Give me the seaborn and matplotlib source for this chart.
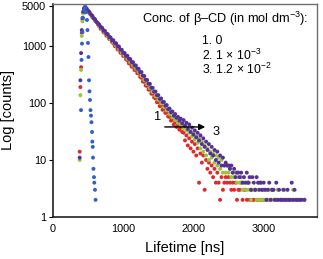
import matplotlib
matplotlib.use("Agg")
import matplotlib.pyplot as plt
import pandas as pd
import seaborn as sns

# TCSPC channels: fine channels on the rising edge, 20 ns channels after the peak
rise_ns = [380, 390, 400, 410, 420, 430, 440, 450]
decay_ns = list(range(460, 3600, 20))

# 1. no beta-CD (red)
red_rise = [14, 190, 425, 1700, 2900, 3900, 4400, 4700]
red_decay = [
    4700, 4330, 4110, 3720, 3540, 3200, 3050, 2750, 2630, 2370,
    2200, 1990, 1930, 1740, 1700, 1520, 1495, 1330, 1310, 1170,
    1110, 995, 975, 870, 858, 762, 752, 668, 660, 585,
    560, 496, 492, 434, 432, 380, 378, 333, 333, 288,
    276, 238, 235, 202, 200, 172, 171, 146, 145, 125,
    120, 103, 103, 88, 90, 76, 79, 67, 68, 58,
    57, 49, 51, 42, 46, 38, 41, 34, 37, 31,
    30, 22, 27, 18, 24, 16, 21, 14, 19, 12,
    16, 4, 13, 9, 12, 3, 10, 7, 9, 6,
    8, 5, 7, 4, 6, 4, 2, 5, 3, 4,
    5, 4, 5, 4, 3, 4, 3, 4, 2, 3,
    3, 4, 2, 3, 3, 2, 4, 2, 3, 2,
    2, 3, 2, 2, 4, 2, 3, 2, 2, 0,
    2, 0, 2, 3, 0, 2, 0, 2, 0, 2,
    0, 2, 0, 0, 2, 0, 0, 0, 2, 0,
    0, 0, 2, 0, 0, 0, 2,
]

# 2. 1e-3 mol dm-3 (green)
green_rise = [10, 137, 380, 1500, 2700, 3700, 4300, 4700]
green_decay = [
    4760, 4480, 4090, 3870, 3510, 3340, 3010, 2880, 2600, 2470,
    2230, 2160, 1950, 1890, 1710, 1660, 1500, 1460, 1310, 1280,
    1150, 1120, 1005, 985, 880, 865, 770, 760, 675, 668,
    592, 585, 518, 515, 452, 452, 398, 397, 348, 345,
    296, 294, 252, 250, 214, 214, 183, 181, 155, 155,
    131, 133, 113, 116, 98, 101, 85, 88, 74, 77,
    64, 67, 56, 59, 50, 54, 45, 48, 41, 43,
    36, 39, 33, 36, 30, 32, 26, 29, 23, 26,
    20, 24, 16, 21, 14, 18, 12, 16, 10, 14,
    11, 13, 9, 12, 8, 11, 7, 10, 6, 8,
    6, 8, 6, 7, 5, 6, 5, 6, 4, 5,
    4, 5, 3, 4, 3, 4, 3, 4, 2, 3,
    3, 3, 2, 3, 2, 4, 2, 3, 2, 3,
    2, 3, 2, 2, 3, 2, 2, 3, 0, 2,
    2, 0, 3, 2, 0, 2, 2, 0, 3, 2,
    0, 2, 0, 2, 0, 0, 2,
]

# 3. 1.2e-2 mol dm-3 (purple)
purple_rise = [11, 250, 750, 1900, 3100, 4000, 4500, 4750]
purple_decay = [
    4850, 4520, 4130, 3920, 3560, 3380, 3050, 2920, 2640, 2500,
    2360, 2150, 2080, 1880, 1830, 1650, 1610, 1445, 1410, 1265,
    1260, 1130, 1110, 990, 975, 868, 855, 760, 752, 668,
    672, 596, 590, 522, 518, 458, 455, 401, 398, 348,
    348, 302, 297, 257, 253, 219, 216, 186, 184, 158,
    159, 137, 137, 118, 120, 104, 104, 90, 92, 78,
    80, 69, 71, 60, 64, 55, 57, 49, 53, 44,
    50, 40, 45, 35, 42, 31, 37, 28, 33, 25,
    30, 22, 27, 19, 24, 17, 21, 15, 19, 13,
    17, 12, 15, 10, 14, 9, 12, 8, 11, 8,
    9, 8, 8, 7, 8, 6, 7, 5, 6, 6,
    5, 6, 4, 5, 4, 6, 4, 5, 3, 5,
    4, 3, 5, 4, 3, 4, 3, 4, 3, 2,
    3, 4, 2, 3, 3, 2, 4, 2, 3, 2,
    2, 3, 2, 2, 3, 2, 2, 4, 2, 3,
    2, 2, 0, 2, 2, 0, 2,
]

# lamp / instrument response (blue)
lamp_ns = [399, 406, 413, 420, 427, 441, 456, 470, 484, 491, 498, 505, 513, 520,
           527, 534, 541, 548, 556, 560, 566, 570, 576, 584, 588, 598, 606]
lamp_counts = [75, 570, 1100, 1750, 3100, 4300, 4750, 3900, 2860, 1900, 1130, 640, 250, 160,
               113, 75, 60, 46, 31, 21, 17, 11, 7, 5, 4, 3, 2]

colors = {"1": "#dd2a2a", "2": "#9dc23c", "3": "#55309a", "lamp": "#2f62c6"}

all_ns = rise_ns + decay_ns
frames = [
    pd.DataFrame({"time": all_ns, "counts": red_rise + red_decay, "series": "1"}),
    pd.DataFrame({"time": all_ns, "counts": green_rise + green_decay, "series": "2"}),
    pd.DataFrame({"time": all_ns, "counts": purple_rise + purple_decay, "series": "3"}),
    pd.DataFrame({"time": lamp_ns, "counts": lamp_counts, "series": "lamp"}),
]
df = pd.concat(frames, ignore_index=True)
df = df[df["counts"] > 0]

plt.rcParams["font.family"] = ["Liberation Sans", "DejaVu Sans"]
plt.rcParams["mathtext.fontset"] = "custom"
plt.rcParams["mathtext.rm"] = "Liberation Sans"
plt.rcParams["mathtext.it"] = "Liberation Sans:italic"
plt.rcParams["mathtext.bf"] = "Liberation Sans:bold"

fig = plt.figure(figsize=(3.23, 2.59), dpi=100)
ax = fig.add_axes([53 / 323, 42 / 259, 264 / 323, 213 / 259])

sns.scatterplot(data=df, x="time", y="counts", hue="series", palette=colors,
                s=8, linewidth=0, legend=False, ax=ax)

ax.set_yscale("log")
ax.set_xlim(0, 3760)
ax.set_ylim(1, 5450)
ax.set_yticks([1, 10, 100, 1000, 5000])
ax.set_yticklabels(["1", "10", "100", "1000", "5000"])
ax.minorticks_off()
ax.set_xticks([0, 1000, 2000, 3000])
ax.tick_params(axis="y", length=3, width=0.8, pad=2, labelsize=7.8)
ax.tick_params(axis="x", length=0, pad=5, labelsize=7.8)

ax.set_xlabel("Lifetime [ns]", fontsize=10.5, labelpad=5)
ax.set_ylabel("Log [counts]", fontsize=10.5, labelpad=5)

for side in ["top", "right"]:
    ax.spines[side].set_color("#707070")
    ax.spines[side].set_linewidth(1.0)
for side in ["left", "bottom"]:
    ax.spines[side].set_color("#202020")
    ax.spines[side].set_linewidth(1.2)

ax.text(0.337, 0.930, "Conc. of β–CD (in mol dm$^{-3}$):", transform=ax.transAxes,
        fontsize=9.2, ha="left", va="center")
ax.text(0.564, 0.824, "1. 0", transform=ax.transAxes, fontsize=8.8, ha="left", va="center")
ax.text(0.564, 0.757, "2. 1 $\\times$ 10$^{-3}$", transform=ax.transAxes,
        fontsize=8.8, ha="left", va="center")
ax.text(0.564, 0.692, "3. 1.2 $\\times$ 10$^{-2}$", transform=ax.transAxes,
        fontsize=8.8, ha="left", va="center")

# arrow from curve 1 to curve 3
ax.annotate("", xy=(2208, 38), xytext=(1553, 38),
            arrowprops=dict(arrowstyle="-|>", color="black", lw=1.0, mutation_scale=9))
ax.text(1496, 57, "1", fontsize=9.2, ha="center", va="center")
ax.text(2318, 31, "3", fontsize=9.2, ha="center", va="center")

fig.savefig("out.png", dpi=100)
